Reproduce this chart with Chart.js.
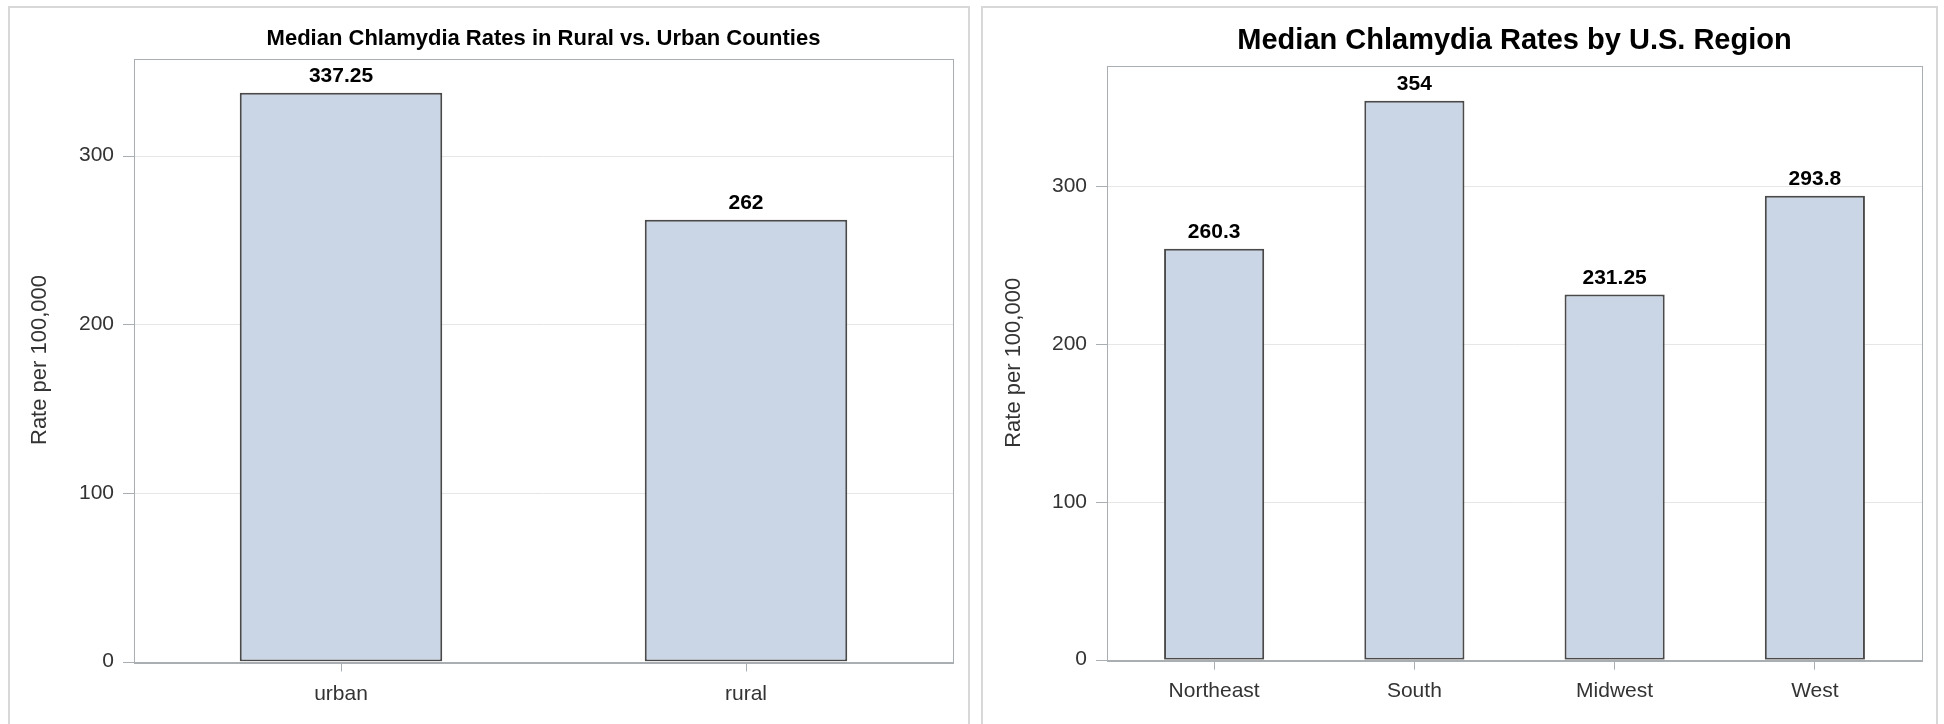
<!DOCTYPE html>
<html>
<head>
<meta charset="utf-8">
<script src="https://cdn.jsdelivr.net/npm/chart.js@4.4.0/dist/chart.umd.min.js"></script>
<style>
html,body{margin:0;padding:0;background:#fff;width:1944px;height:724px;overflow:hidden}
.panel{position:absolute;border:2px solid #d8d8d8;box-sizing:border-box}
#p1{left:8px;top:6px;width:962px;height:740px}
#p2{left:981px;top:6px;width:957px;height:740px}
canvas{position:absolute;top:0}
#c1{left:0}
#c2{left:976px}
</style>
</head>
<body>
<div class="panel" id="p1"></div>
<div class="panel" id="p2"></div>
<canvas id="c1" width="976" height="724"></canvas>
<canvas id="c2" width="968" height="724"></canvas>
<script>
// ---- data ----
const ruralUrbanCategories = ['urban', 'rural'];
const ruralUrbanRates = [337.25, 262];
const regionCategories = ['Northeast', 'South', 'Midwest', 'West'];
const regionRates = [260.3, 354, 231.25, 293.8];
const yTickStep = 100;
const ruralUrbanAxisMax = 357.6;
const regionAxisMax = 376;
const yAxisTitle = 'Rate per 100,000';
const ruralUrbanTitle = 'Median Chlamydia Rates in Rural vs. Urban Counties';
const regionTitle = 'Median Chlamydia Rates by U.S. Region';

const FONT = "'Liberation Sans', Arial, sans-serif";
const BAR_FILL = '#CAD5E5';
const BAR_EDGE = '#4a4a4a';
const FRAME = '#a9aeb3';
const GRID = '#e6e6e6';
const TEXT = '#333333';

// frame, gridlines and y tick marks drawn from the y scale
const framePlugin = {
  id: 'sasFrame',
  beforeDatasetsDraw(chart, args, opts) {
    const {ctx, chartArea, scales} = chart;
    const y = scales.y;
    const L = Math.round(chartArea.left - opts.inset);
    const R = Math.round(chartArea.right + opts.inset);
    const T = Math.round(chartArea.top);
    const B = Math.round(chartArea.bottom);
    ctx.save();
    ctx.lineWidth = 1;
    ctx.strokeStyle = GRID;
    y.ticks.forEach(t => {
      if (t.value === 0) return;
      const py = Math.round(y.getPixelForValue(t.value)) + 0.5;
      ctx.beginPath(); ctx.moveTo(L, py); ctx.lineTo(R, py); ctx.stroke();
    });
    ctx.strokeStyle = FRAME;
    y.ticks.forEach(t => {
      const py = Math.round(y.getPixelForValue(t.value)) + 0.5;
      ctx.beginPath(); ctx.moveTo(L - 11, py); ctx.lineTo(L, py); ctx.stroke();
    });
    ctx.strokeRect(L + 0.5, T + 0.5, R - L, B - T);
    ctx.lineWidth = 2;
    ctx.beginPath(); ctx.moveTo(L, B + 1); ctx.lineTo(R + 1, B + 1); ctx.stroke();
    ctx.restore();
  }
};

// value labels above bars
const valueLabelPlugin = {
  id: 'valueLabels',
  afterDatasetsDraw(chart) {
    const {ctx} = chart;
    const meta = chart.getDatasetMeta(0);
    const values = chart.data.datasets[0].data;
    ctx.save();
    ctx.font = 'bold 21px ' + FONT;
    ctx.fillStyle = '#000';
    ctx.textAlign = 'center';
    ctx.textBaseline = 'alphabetic';
    meta.data.forEach((bar, i) => {
      ctx.fillText(String(values[i]), bar.x, bar.y - 10.5);
    });
    ctx.restore();
  }
};

function makeChart(id, cfg) {
  return new Chart(document.getElementById(id), {
    type: 'bar',
    data: {
      labels: cfg.categories,
      datasets: [{
        data: cfg.values,
        backgroundColor: BAR_FILL,
        borderColor: BAR_EDGE,
        borderWidth: 2,
        borderSkipped: false,
        barPercentage: 0.5,
        categoryPercentage: 1.0
      }]
    },
    options: {
      responsive: false,
      animation: false,
      layout: {padding: {left: 10, right: cfg.padRight, top: 0, bottom: 0}},
      plugins: {
        legend: {display: false},
        tooltip: {enabled: false},
        title: {
          display: true,
          text: cfg.title,
          fullSize: false,
          color: '#000',
          font: {family: FONT, size: cfg.titleSize, weight: 'bold'},
          padding: {top: cfg.titlePadTop, bottom: cfg.titlePadBottom}
        },
        sasFrame: {inset: cfg.inset}
      },
      scales: {
        x: {
          type: 'category',
          offset: true,
          grid: {display: true, offset: false, drawOnChartArea: false, drawTicks: true, tickLength: 10, color: FRAME, tickColor: FRAME},
          border: {display: false},
          ticks: {color: TEXT, font: {family: FONT, size: 21}, padding: cfg.xPad, maxRotation: 0, autoSkip: false},
          afterFit(scale) { scale.height = cfg.xHeight; }
        },
        y: {
          type: 'linear',
          min: 0,
          max: cfg.axisMax,
          grid: {display: false, drawTicks: false},
          border: {display: false},
          ticks: {stepSize: yTickStep, includeBounds: false, color: TEXT, font: {family: FONT, size: 21}, padding: 20 + cfg.inset},
          title: {display: true, text: yAxisTitle, color: TEXT, font: {family: FONT, size: 22}, padding: {top: cfg.yTitlePad, bottom: 0}},
          afterFit(scale) { scale.width = cfg.yWidth; }
        }
      }
    },
    plugins: [framePlugin, valueLabelPlugin]
  });
}

makeChart('c1', {
  categories: ruralUrbanCategories,
  values: ruralUrbanRates,
  title: ruralUrbanTitle,
  titleSize: 22,
  titlePadTop: 25.4,
  titlePadBottom: 6.7,
  axisMax: ruralUrbanAxisMax,
  inset: 4.5,
  yWidth: 128.5,
  yTitlePad: 16.8,
  xHeight: 62.5,
  xPad: 10,
  padRight: 27.5
});

makeChart('c2', {
  categories: regionCategories,
  values: regionRates,
  title: regionTitle,
  titleSize: 29,
  titlePadTop: 23.7,
  titlePadBottom: 7.5,
  axisMax: regionAxisMax,
  inset: 7,
  yWidth: 128,
  yTitlePad: 14.3,
  xHeight: 64.3,
  xPad: 9,
  padRight: 29
});
</script>
</body>
</html>
